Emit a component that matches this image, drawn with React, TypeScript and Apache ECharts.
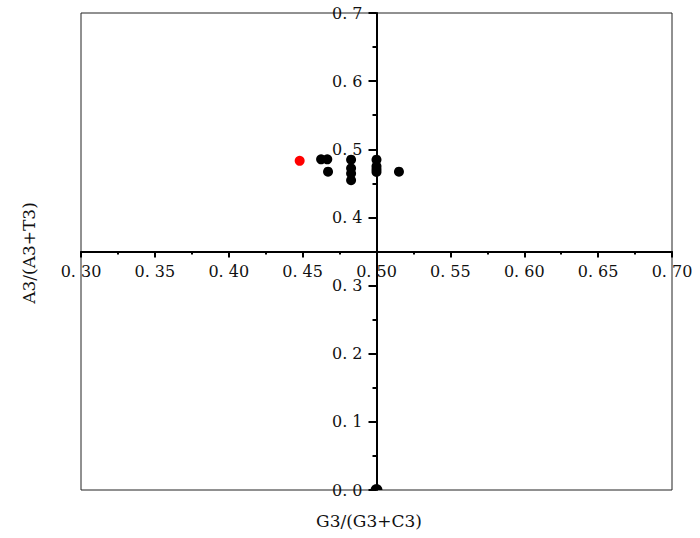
import React, { useEffect, useRef } from "react";
import * as echarts from "echarts";

const redPoints: number[][] = [[0.448, 0.483]];
const blackPoints: number[][] = [
  [0.4625, 0.4853],
  [0.4667, 0.4853],
  [0.4672, 0.4672],
  [0.4828, 0.4848],
  [0.4828, 0.4722],
  [0.4828, 0.4643],
  [0.4828, 0.4545],
  [0.5, 0.4848],
  [0.5, 0.4750],
  [0.5, 0.4667],
  [0.5, 0.4706],
  [0.5152, 0.4672],
];
const edgePoints: number[][] = [[0.5, 0.0]];
const xName = "G3/(G3+C3)";
const yName = "A3/(A3+T3)";

const FONT = "'DejaVu Serif', 'Liberation Serif', serif";

export default function App() {
  const ref = useRef<HTMLDivElement>(null);
  useEffect(() => {
    if (!ref.current) return;
    const chart = echarts.init(ref.current, undefined, { renderer: "svg" });
    const fmt = (digits: number) => (v: number) => {
      const s = v.toFixed(digits);
      return s.replace(".", ". ");
    };
    chart.setOption({
      animation: false,
      backgroundColor: "#fff",
      grid: {
        left: 81,
        right: 28,
        top: 13,
        bottom: 48,
        show: true,
        borderColor: "#222",
        borderWidth: 1,
      },
      xAxis: {
        type: "value",
        min: 0.3,
        max: 0.7,
        interval: 0.05,
        position: "bottom",
        offset: -238.5,
        axisLine: { show: true, onZero: false, lineStyle: { color: "#000", width: 2 } },
        axisTick: { show: true, length: 6, lineStyle: { color: "#000", width: 2 } },
        minorTick: { show: true, splitNumber: 2, length: 3, lineStyle: { color: "#000", width: 2 } },
        splitLine: { show: false },
        axisLabel: {
          margin: 12,
          color: "#111",
          fontSize: 16,
          fontFamily: FONT,
          formatter: fmt(2),
        },
      },
      yAxis: {
        type: "value",
        min: 0,
        max: 0.7,
        interval: 0.1,
        position: "left",
        offset: -295.5,
        axisLine: { show: true, onZero: false, lineStyle: { color: "#000", width: 2 } },
        axisTick: { show: true, length: 8, lineStyle: { color: "#000", width: 2 } },
        minorTick: { show: true, splitNumber: 2, length: 4, lineStyle: { color: "#000", width: 2 } },
        splitLine: { show: false },
        axisLabel: {
          margin: 14,
          color: "#111",
          fontSize: 16,
          fontFamily: FONT,
          formatter: fmt(1),
        },
      },
      graphic: [
        {
          type: "text",
          x: 369,
          y: 521,
          style: {
            text: xName,
            fontSize: 17,
            fontFamily: FONT,
            fill: "#111",
            align: "center",
            verticalAlign: "middle",
          },
        },
        {
          type: "text",
          x: 29,
          y: 253,
          rotation: Math.PI / 2,
          style: {
            text: yName,
            fontSize: 17,
            fontFamily: FONT,
            fill: "#111",
            align: "center",
            verticalAlign: "middle",
          },
        },
      ],
      series: [
        {
          type: "scatter",
          data: blackPoints,
          symbol: "circle",
          symbolSize: 10,
          itemStyle: { color: "#000", opacity: 1 },
          z: 3,
        },
        {
          type: "scatter",
          data: edgePoints,
          symbol: "path://M-1,0 A1,1 0 0 1 1,0 Z",
          symbolKeepAspect: true,
          symbolSize: 12,
          symbolOffset: [0, -3],
          itemStyle: { color: "#000", opacity: 1 },
          z: 3,
        },
        {
          type: "scatter",
          data: redPoints,
          symbol: "circle",
          symbolSize: 10,
          itemStyle: { color: "#ff0000", opacity: 1 },
          z: 3,
        },
      ],
    });
    return () => chart.dispose();
  }, []);
  return <div ref={ref} style={{ width: 700, height: 538, position: "absolute", left: 0, top: 0 }} />;
}
